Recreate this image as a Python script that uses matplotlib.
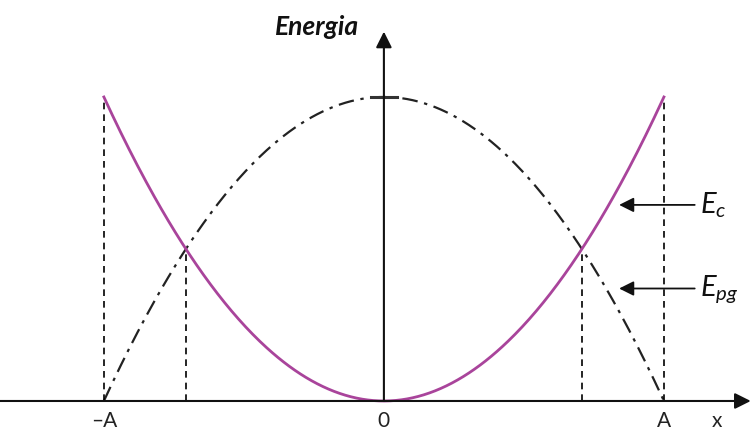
import numpy as np
import matplotlib.pyplot as plt

plt.rcParams['font.family'] = ['Lato', 'DejaVu Sans']
plt.rcParams['mathtext.fontset'] = 'custom'
plt.rcParams['mathtext.rm'] = 'Lato'
plt.rcParams['mathtext.it'] = 'Lato:italic'

# dati
ampiezza = 1.0          # A
energia_tot = 1.0       # energia meccanica
x_cross = ampiezza / np.sqrt(2)
tick_pos = [-ampiezza, 0.0, ampiezza]
tick_lab = ['\u2013A', '0', 'A']

x = np.linspace(-ampiezza, ampiezza, 400)
e_pot = energia_tot * (x / ampiezza)**2
e_cin = energia_tot - e_pot

fig = plt.figure(figsize=(7.51, 4.34), dpi=100)
ax = fig.add_axes([0, 0, 1, 1])
ax.set_xlim(-1.371, 1.311)
ax.set_ylim(-0.1086, 1.319)
ax.axis('off')

viola = '#a9449b'
ax.plot(x, e_pot, color=viola, lw=2, zorder=3)
ax.plot(x, e_cin, color='#222222', lw=1.6, ls=(0, (7, 3, 1.5, 3)), zorder=2)

# linee tratteggiate verticali
for xv, yv in [(-ampiezza, energia_tot), (ampiezza, energia_tot),
               (-x_cross, energia_tot / 2), (x_cross, energia_tot / 2)]:
    ax.plot([xv, xv], [0, yv], color='black', lw=1.2, ls=(0, (4, 3)))

# assi
ax.annotate('', xy=(1.31, 0), xytext=(-1.371, 0),
            arrowprops=dict(arrowstyle='-|>', color='#111111', lw=1.5,
                            mutation_scale=24, shrinkA=0, shrinkB=0))
ax.annotate('', xy=(0, 1.215), xytext=(0, 0),
            arrowprops=dict(arrowstyle='-|>', color='#111111', lw=1.5,
                            mutation_scale=24, shrinkA=0, shrinkB=0))
ax.plot([-0.045, 0.045], [energia_tot, energia_tot], color='#333333', lw=2.2)

for xp, lab in zip(tick_pos, tick_lab):
    ax.text(xp, -0.065, lab, ha='center', va='center', fontsize=15, color='#222222')
ax.text(1.19, -0.065, 'x', ha='center', va='center', fontsize=15, color='#222222')

ax.text(-0.09, 1.23, 'Energia', ha='right', va='center', fontsize=19,
        fontweight='bold', fontstyle='italic', color='#111111')

# frecce etichette
ax.annotate('', xy=(0.84, 0.645), xytext=(1.11, 0.645),
            arrowprops=dict(arrowstyle='-|>', color='#111111', lw=1.3,
                            mutation_scale=22, shrinkA=0, shrinkB=0))
ax.annotate('', xy=(0.84, 0.37), xytext=(1.11, 0.37),
            arrowprops=dict(arrowstyle='-|>', color='#111111', lw=1.3,
                            mutation_scale=22, shrinkA=0, shrinkB=0))
ax.text(1.13, 0.645, r'$E_{c}$', ha='left', va='center', fontsize=21, color='#111111')
ax.text(1.13, 0.37, r'$E_{pg}$', ha='left', va='center', fontsize=21, color='#111111')

fig.savefig('out.png', dpi=100)
